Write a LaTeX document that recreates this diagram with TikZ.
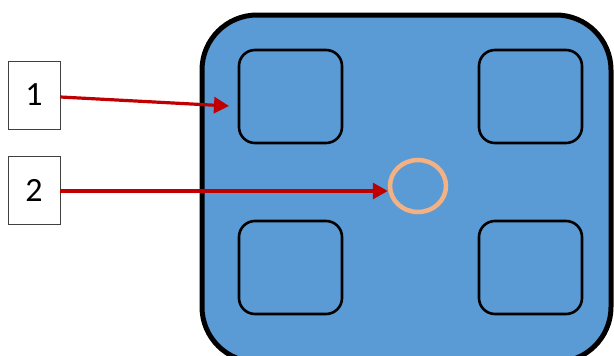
\documentclass[tikz,border=0pt]{standalone}
\usepackage{fontspec}
\setmainfont{Carlito}
\usetikzlibrary{arrows.meta,shapes.geometric}
\definecolor{panelblue}{HTML}{5B9BD5}
\definecolor{ringorange}{HTML}{F4B183}
\definecolor{arrowred}{HTML}{C00000}
\begin{document}
\begin{tikzpicture}[x=1pt,y=-1pt,
  cell/.style={draw=black,line width=2.6pt,rounded corners=16pt},
  labelbox/.style={draw=black!75,line width=0.9pt,minimum width=52pt,minimum height=68pt,inner sep=0pt,font=\fontsize{34}{36}\selectfont},
  pointer/.style={draw=arrowred,line width=3.2pt,-{Triangle[length=15pt,width=16pt]}}]
\useasboundingbox (0,0) rectangle (614,356);
\begin{scope}
\clip (0,0) rectangle (614,356);
\draw[fill=panelblue,line width=5pt,rounded corners=55pt] (202,15) rectangle (611,362);
\draw[cell] (239,50) rectangle (342,143);
\draw[cell] (479,50) rectangle (582,143);
\draw[cell] (239,221) rectangle (342,314);
\draw[cell] (479,221) rectangle (582,314);
\end{scope}
\node[draw=ringorange,line width=4.5pt,ellipse,minimum width=56pt,minimum height=52pt,inner sep=0pt] (ring) at (418,186) {};
\node[labelbox] (l1) at (34,95) {1};
\node[labelbox] (l2) at (34,190) {2};
\coordinate (t1) at (229,106);
\draw[pointer] (l1.east |- 0,97) -- (t1);
\draw[pointer] (l2.east |- 0,191) -- (ring.west |- 0,191);
\end{tikzpicture}
\end{document}
